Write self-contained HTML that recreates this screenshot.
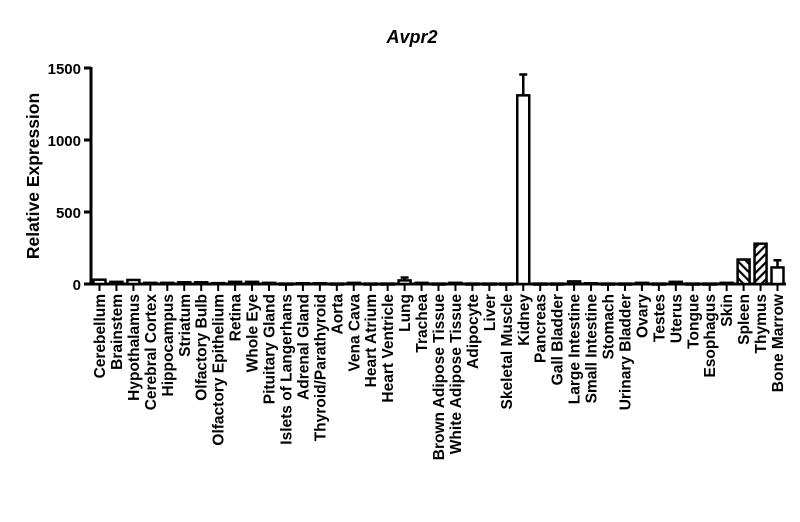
<!DOCTYPE html>
<html><head><style>
html,body{margin:0;padding:0;background:#fff;width:800px;height:522px;overflow:hidden}
text{font-family:"Liberation Sans",Arial,sans-serif;font-weight:bold;fill:#000}
</style></head><body>
<svg width="800" height="522" viewBox="0 0 800 522" xmlns="http://www.w3.org/2000/svg">
<defs>
<pattern id="hb" width="6" height="6" patternUnits="userSpaceOnUse" patternTransform="rotate(-45)"><rect width="6" height="6" fill="#fff"/><rect width="2.2" height="6" fill="#000"/></pattern>
<pattern id="hf" width="6" height="6" patternUnits="userSpaceOnUse" patternTransform="rotate(45)"><rect width="6" height="6" fill="#fff"/><rect width="2.2" height="6" fill="#000"/></pattern>
</defs>
<text x="412" y="43" font-size="18" font-style="italic" text-anchor="middle">Avpr2</text>
<text transform="translate(39,176) rotate(-90)" font-size="17.5" text-anchor="middle">Relative Expression</text>
<g stroke="#000" stroke-width="3" fill="none">
<line x1="91" y1="67" x2="91" y2="285"/>
<line x1="90" y1="284" x2="786" y2="284"/>
<line x1="84" y1="68" x2="91" y2="68"/>
<line x1="84" y1="140" x2="91" y2="140"/>
<line x1="84" y1="212" x2="91" y2="212"/>
<line x1="84" y1="284" x2="91" y2="284"/>
</g>
<g font-size="15" text-anchor="end">
<text x="81" y="74">1500</text><text x="81" y="146">1000</text><text x="81" y="218">500</text><text x="81" y="290">0</text>
</g>
<g id="bars" stroke="#000" stroke-width="2.5" fill="#fff"></g>
<g id="ticks" stroke="#000" stroke-width="2"></g>
<g id="labels" font-size="15.5" text-anchor="end"></g>
</svg>
<script>
var names=["Cerebellum","Brainstem","Hypothalamus","Cerebral Cortex","Hippocampus","Striatum","Olfactory Bulb","Olfactory Epithelium","Retina","Whole Eye","Pituitary Gland","Islets of Langerhans","Adrenal Gland","Thyroid/Parathyroid","Aorta","Vena Cava","Heart Atrium","Heart Ventricle","Lung","Trachea","Brown Adipose Tissue","White Adipose Tissue","Adipocyte","Liver","Skeletal Muscle","Kidney","Pancreas","Gall Bladder","Large Intestine","Small Intestine","Stomach","Urinary Bladder","Ovary","Testes","Uterus","Tongue","Esophagus","Skin","Spleen","Thymus","Bone Marrow"];
var vals=[30,15,28,8,8,12,12,6,15,15,8,3,5,5,3,8,3,3,25,8,3,8,3,3,3,1310,3,3,18,5,3,3,8,3,15,3,3,8,170,280,115];
var err=[0,0,0,0,0,0,0,0,0,0,0,0,0,0,0,0,0,0,20,0,0,0,0,0,0,145,0,0,0,0,0,0,0,0,0,0,0,0,0,0,50];
var ns="http://www.w3.org/2000/svg";
var B=document.getElementById("bars"),T=document.getElementById("ticks"),L=document.getElementById("labels");
function el(n,a,p){var e=document.createElementNS(ns,n);for(var k in a)e.setAttribute(k,a[k]);p.appendChild(e);return e;}
for(var i=0;i<names.length;i++){
 var x=99.5+i*16.95, h=vals[i]*216/1500, y=284-h;
 if(err[i]>0){var ey=284-(vals[i]+err[i])*216/1500;el("line",{x1:x,y1:y,x2:x,y2:ey},B);el("line",{x1:x-4,y1:ey,x2:x+4,y2:ey},B);}
 var f="#fff"; if(i==38)f="url(#hb)"; if(i==39)f="url(#hf)";
 el("rect",{x:x-6,y:y,width:12,height:Math.max(h,1),fill:f},B);
 el("line",{x1:x,y1:284,x2:x,y2:291},T);
 var t=el("text",{transform:"translate("+(x+5.5)+",294) rotate(-90)"},L);t.textContent=names[i];
}
</script>
</body></html>
